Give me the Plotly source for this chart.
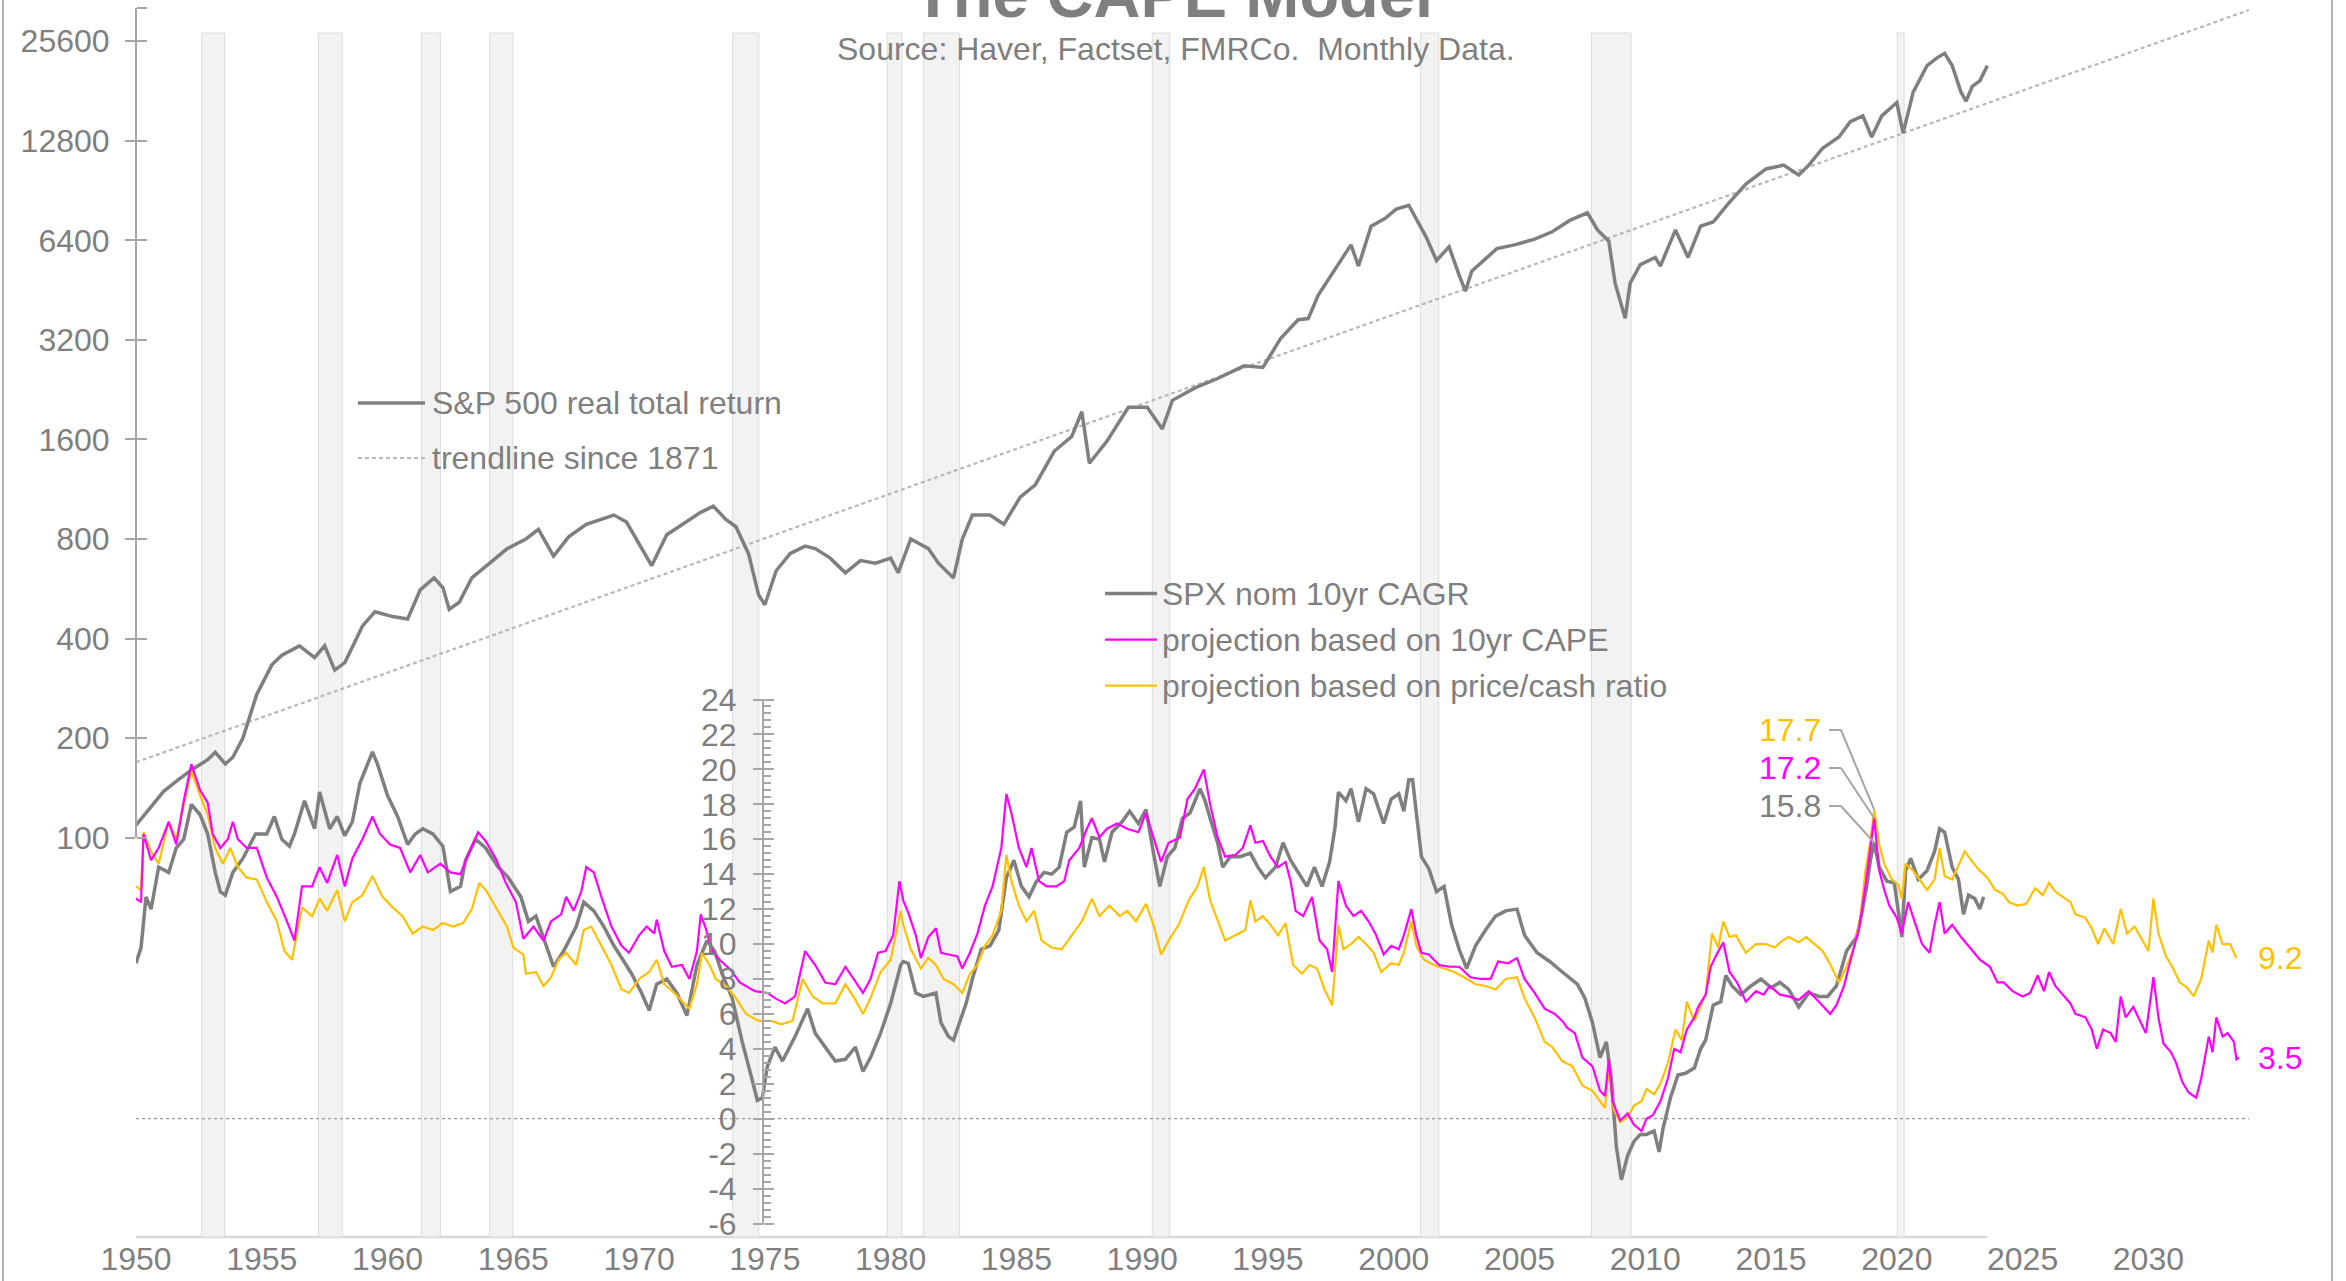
import numpy as np
import plotly.graph_objects as go

# ---------------- DATA ----------------
spx_years = [1950.0, 1950.5, 1951.1, 1951.7, 1952.25, 1952.85, 1953.15, 1953.55, 1953.85, 1954.25, 1954.8, 1955.4,
             1955.8, 1956.5, 1957.1, 1957.5, 1957.9, 1958.3, 1959.0, 1959.5, 1960.2, 1960.8, 1961.3, 1961.85,
             1962.2, 1962.45, 1962.85, 1963.35, 1963.95, 1964.75, 1965.5, 1966.0, 1966.6, 1967.2, 1967.9, 1968.5,
             1969.0, 1969.5, 1970.1, 1970.5, 1971.1, 1971.7, 1972.45, 1972.95, 1973.45, 1973.85, 1974.35, 1974.75,
             1975.0, 1975.45, 1976.0, 1976.6, 1977.0, 1977.6, 1978.2, 1978.8, 1979.4, 1980.0, 1980.3, 1980.8,
             1981.5, 1981.9, 1982.5, 1982.85, 1983.25, 1983.95, 1984.5, 1985.15, 1985.75, 1986.5, 1987.2, 1987.6,
             1987.9, 1988.6, 1989.45, 1990.2, 1990.8, 1991.2, 1992.1, 1993.0, 1994.05, 1994.8, 1995.5, 1996.2,
             1996.6, 1997.0, 1997.6, 1998.3, 1998.6, 1999.1, 1999.65, 2000.1, 2000.6, 2001.05, 2001.3, 2001.7,
             2002.2, 2002.6, 2002.85, 2003.1, 2003.7, 2004.1, 2004.8, 2005.6, 2006.3, 2007.0, 2007.7, 2008.1,
             2008.55, 2008.8, 2009.2, 2009.4, 2009.8, 2010.4, 2010.6, 2011.2, 2011.7, 2012.2, 2012.7, 2013.3,
             2014.0, 2014.8, 2015.5, 2016.1, 2016.5, 2017.05, 2017.7, 2018.15, 2018.65, 2019.0, 2019.4, 2020.0,
             2020.25, 2020.65, 2021.2, 2021.6, 2021.9, 2022.2, 2022.55, 2022.75, 2023.0, 2023.3, 2023.6]
spx_vals = [109, 121, 138, 150, 161, 172, 181, 167, 175, 200, 271, 333,
            356, 380, 350, 380, 321, 338, 436, 482, 466, 458, 561, 610,
            570, 490, 515, 610, 664, 747, 800, 855, 710, 812, 886, 917,
            945, 900, 747, 664, 824, 886, 963, 1005, 917, 871, 722, 542,
            506, 641, 722, 761, 748, 700, 632, 688, 676, 700, 632, 800,
            748, 676, 610, 800, 945, 945, 886, 1070, 1165, 1473, 1633, 1940,
            1355, 1580, 2000, 2000, 1720, 2100, 2290, 2445, 2670, 2640, 3230, 3680,
            3710, 4370, 5160, 6200, 5350, 7060, 7450, 7950, 8170, 7060, 6520, 5560,
            6120, 5020, 4490, 5160, 5680, 6040, 6200, 6450, 6790, 7350, 7750, 6880,
            6360, 4750, 3720, 4750, 5400, 5680, 5350, 6880, 5680, 7060, 7270, 8260,
            9470, 10520, 10800, 10090, 10800, 12150, 13140, 14620, 15220, 13140, 15220, 16700,
            13500, 17960, 21600, 22800, 23530, 21600, 17960, 16850, 18680, 19430, 21600]

trend_years = [1950, 2034]
trend_vals = [169, 31800]

cagr_years = [1950.0, 1950.2, 1950.4, 1950.6, 1950.9, 1951.3, 1951.6, 1951.9, 1952.2, 1952.55, 1952.85, 1953.15,
              1953.35, 1953.55, 1953.85, 1954.25, 1954.75, 1955.2, 1955.5, 1955.8, 1956.1, 1956.3, 1956.7, 1957.1,
              1957.3, 1957.7, 1958.0, 1958.3, 1958.6, 1958.9, 1959.4, 1959.6, 1960.0, 1960.4, 1960.8, 1961.1,
              1961.4, 1961.8, 1962.2, 1962.5, 1962.9, 1963.1, 1963.5, 1963.9, 1964.4, 1964.8, 1965.3, 1965.6,
              1965.9, 1966.3, 1966.6, 1967.0, 1967.5, 1967.8, 1968.2, 1968.6, 1969.0, 1969.4, 1969.7, 1970.1,
              1970.4, 1970.7, 1971.1, 1971.5, 1971.9, 1972.3, 1972.7, 1973.0, 1973.3, 1973.7, 1974.1, 1974.5,
              1974.7, 1974.9, 1975.1, 1975.4, 1975.7, 1976.2, 1976.7, 1977.0, 1977.4, 1977.8, 1978.2, 1978.6,
              1978.9, 1979.2, 1979.6, 1980.0, 1980.4, 1980.5, 1980.7, 1981.0, 1981.3, 1981.6, 1981.8, 1982.0,
              1982.3, 1982.5, 1982.75, 1983.0, 1983.25, 1983.6, 1983.95, 1984.3, 1984.6, 1984.9, 1985.2, 1985.5,
              1985.8, 1986.1, 1986.4, 1986.7, 1987.0, 1987.3, 1987.55, 1987.7, 1988.0, 1988.3, 1988.5, 1988.8,
              1989.2, 1989.5, 1989.85, 1990.15, 1990.45, 1990.7, 1991.0, 1991.3, 1991.6, 1991.9, 1992.3, 1992.5,
              1992.7, 1993.0, 1993.2, 1993.5, 1993.9, 1994.3, 1994.6, 1994.9, 1995.3, 1995.6, 1995.9, 1996.2,
              1996.55, 1996.85, 1997.15, 1997.45, 1997.66, 1997.8, 1998.1, 1998.3, 1998.6, 1998.9, 1999.2, 1999.6,
              1999.9, 2000.2, 2000.4, 2000.6, 2000.75, 2000.9, 2001.1, 2001.4, 2001.7, 2002.0, 2002.3, 2002.6,
              2002.9, 2003.25, 2003.65, 2004.05, 2004.45, 2004.9, 2005.2, 2005.7, 2006.2, 2006.7, 2007.3, 2007.6,
              2007.9, 2008.2, 2008.45, 2008.65, 2008.85, 2009.05, 2009.3, 2009.55, 2009.8, 2010.05, 2010.35, 2010.55,
              2010.7, 2011.0, 2011.3, 2011.6, 2011.95, 2012.2, 2012.4, 2012.7, 2013.0, 2013.2, 2013.45, 2013.8,
              2014.2, 2014.6, 2015.0, 2015.35, 2015.7, 2016.1, 2016.5, 2016.9, 2017.25, 2017.6, 2018.0, 2018.4,
              2018.6, 2018.8, 2018.95, 2019.1, 2019.3, 2019.6, 2019.9, 2020.2, 2020.35, 2020.55, 2020.85, 2021.2,
              2021.5, 2021.7, 2021.9, 2022.2, 2022.45, 2022.65, 2022.85, 2023.1, 2023.3, 2023.45]
cagr_vals = [8.9, 9.8, 12.7, 12.0, 14.4, 14.1, 15.5, 16.0, 18.0, 17.4, 16.3, 14.1,
             13.0, 12.8, 14.1, 14.9, 16.3, 16.3, 17.3, 16.0, 15.6, 16.3, 18.2, 16.6,
             18.7, 16.6, 17.3, 16.2, 17.0, 19.2, 21.0, 20.3, 18.5, 17.3, 15.7, 16.3,
             16.6, 16.3, 15.6, 13.0, 13.3, 14.8, 16.0, 15.5, 14.4, 13.8, 12.7, 11.3,
             11.6, 9.9, 8.7, 9.6, 11.0, 12.4, 11.9, 11.0, 9.9, 9.0, 8.3, 7.2,
             6.2, 7.7, 8.0, 7.2, 5.9, 8.8, 10.2, 9.6, 8.3, 6.9, 4.4, 2.2,
             1.05, 1.2, 3.0, 4.1, 3.3, 4.7, 6.3, 4.9, 4.1, 3.3, 3.4, 4.1,
             2.7, 3.5, 4.9, 6.6, 8.8, 9.0, 8.9, 7.2, 7.0, 7.1, 7.2, 5.5,
             4.7, 4.5, 5.5, 6.6, 8.0, 9.7, 9.9, 10.8, 13.8, 14.8, 13.3, 12.7,
             13.6, 14.1, 14.0, 14.4, 16.4, 16.7, 18.2, 14.4, 16.1, 16.0, 14.7, 16.4,
             17.0, 17.6, 16.9, 17.7, 15.2, 13.3, 15.0, 15.5, 17.2, 17.5, 18.9, 18.2,
             17.2, 15.8, 14.4, 15.0, 15.0, 15.2, 14.4, 13.8, 14.4, 15.8, 14.8, 14.1,
             13.3, 14.4, 13.3, 14.7, 16.6, 18.7, 18.2, 18.9, 17.0, 18.9, 18.6, 16.9,
             18.3, 18.6, 17.6, 19.4, 19.4, 17.5, 15.0, 14.3, 13.0, 13.3, 11.1, 9.7,
             8.6, 9.9, 10.8, 11.6, 11.9, 12.0, 10.5, 9.5, 9.0, 8.4, 7.7, 6.9,
             5.5, 3.5, 4.4, 2.3, -1.6, -3.5, -2.1, -1.3, -0.9, -0.9, -0.7, -1.9,
             -0.6, 1.2, 2.5, 2.6, 2.9, 4.0, 4.5, 6.5, 6.7, 8.2, 7.6, 7.1,
             7.6, 8.0, 7.5, 7.8, 7.4, 6.4, 7.2, 7.0, 7.0, 7.6, 9.6, 10.4,
             11.7, 13.3, 14.8, 15.8, 14.4, 13.6, 13.5, 10.4, 14.2, 14.9, 13.7, 14.2,
             15.3, 16.6, 16.4, 14.4, 13.7, 11.7, 12.8, 12.6, 12.0, 12.7]

cape_years = [1950.0, 1950.2, 1950.3, 1950.6, 1950.9, 1951.3, 1951.6, 1951.9, 1952.2, 1952.55, 1952.85, 1953.05,
              1953.35, 1953.65, 1953.85, 1954.05, 1954.4, 1954.8, 1955.2, 1955.6, 1956.0, 1956.3, 1956.6, 1957.0,
              1957.3, 1957.6, 1958.0, 1958.3, 1958.6, 1959.0, 1959.4, 1959.7, 1960.1, 1960.5, 1960.9, 1961.3,
              1961.6, 1962.1, 1962.5, 1962.9, 1963.2, 1963.6, 1963.9, 1964.3, 1964.7, 1965.1, 1965.4, 1965.8,
              1966.2, 1966.5, 1966.9, 1967.1, 1967.4, 1967.7, 1967.9, 1968.2, 1968.5, 1968.9, 1969.3, 1969.6,
              1970.0, 1970.3, 1970.6, 1970.7, 1971.0, 1971.3, 1971.7, 1972.0, 1972.3, 1972.45, 1972.65, 1972.9,
              1973.2, 1973.65, 1974.0, 1974.6, 1975.1, 1975.4, 1975.8, 1976.2, 1976.6, 1977.0, 1977.4, 1977.8,
              1978.2, 1978.6, 1978.9, 1979.2, 1979.5, 1979.8, 1980.1, 1980.35, 1980.5, 1980.7, 1981.0, 1981.2,
              1981.5, 1981.8, 1982.0, 1982.3, 1982.65, 1982.85, 1983.15, 1983.45, 1983.75, 1984.05, 1984.4, 1984.6,
              1984.8, 1985.1, 1985.4, 1985.6, 1985.9, 1986.2, 1986.6, 1986.9, 1987.1, 1987.5, 1987.8, 1988.0,
              1988.3, 1988.6, 1989.0, 1989.4, 1989.85, 1990.15, 1990.45, 1990.75, 1991.05, 1991.5, 1991.8, 1992.1,
              1992.45, 1992.7, 1993.0, 1993.3, 1993.7, 1994.0, 1994.3, 1994.5, 1994.8, 1995.1, 1995.4, 1995.7,
              1995.9, 1996.1, 1996.4, 1996.75, 1997.05, 1997.35, 1997.55, 1997.8, 1998.1, 1998.4, 1998.7, 1999.0,
              1999.3, 1999.6, 1999.9, 2000.2, 2000.4, 2000.7, 2000.9, 2001.1, 2001.4, 2001.8, 2002.2, 2002.6,
              2003.05, 2003.45, 2003.85, 2004.15, 2004.55, 2004.9, 2005.2, 2005.6, 2006.0, 2006.4, 2006.7, 2006.9,
              2007.2, 2007.5, 2007.9, 2008.2, 2008.4, 2008.55, 2008.7, 2009.0, 2009.3, 2009.55, 2009.85, 2010.05,
              2010.3, 2010.6, 2010.9, 2011.15, 2011.4, 2011.65, 2011.95, 2012.1, 2012.4, 2012.6, 2012.8, 2013.1,
              2013.35, 2013.65, 2014.0, 2014.4, 2014.7, 2014.95, 2015.35, 2015.7, 2016.1, 2016.5, 2016.9, 2017.35,
              2017.6, 2017.9, 2018.2, 2018.5, 2018.75, 2018.95, 2019.1, 2019.3, 2019.5, 2019.7, 2020.0, 2020.2,
              2020.45, 2020.75, 2021.0, 2021.3, 2021.5, 2021.7, 2021.9, 2022.2, 2022.55, 2022.9, 2023.3, 2023.7,
              2024.0, 2024.25, 2024.6, 2025.0, 2025.3, 2025.6, 2025.85, 2026.05, 2026.3, 2026.6, 2026.9, 2027.1,
              2027.5, 2027.75, 2027.95, 2028.2, 2028.5, 2028.7, 2028.9, 2029.1, 2029.4, 2029.7, 2029.9, 2030.2,
              2030.4, 2030.6, 2030.9, 2031.1, 2031.35, 2031.6, 2031.9, 2032.1, 2032.4, 2032.55, 2032.7, 2032.95,
              2033.15, 2033.4, 2033.5, 2033.6]
cape_vals = [12.6, 12.4, 16.3, 14.8, 15.5, 17.0, 15.7, 18.2, 20.3, 18.8, 18.1, 16.3,
             15.5, 16.0, 17.0, 16.0, 15.5, 15.5, 13.8, 12.7, 11.3, 10.2, 13.3, 13.3,
             14.4, 13.5, 15.1, 13.3, 14.9, 16.0, 17.3, 16.3, 15.7, 15.5, 14.1, 15.1,
             14.1, 14.6, 14.1, 14.0, 15.1, 16.4, 15.9, 14.9, 13.5, 12.4, 10.3, 11.0,
             10.2, 11.3, 11.7, 12.7, 11.9, 13.0, 14.4, 14.1, 12.7, 11.0, 9.9, 9.5,
             10.5, 11.0, 10.6, 11.4, 9.6, 8.7, 8.8, 8.0, 9.6, 11.7, 10.9, 9.6,
             9.1, 8.5, 7.8, 7.3, 7.2, 6.9, 6.6, 7.0, 9.6, 8.8, 7.8, 7.7,
             8.7, 7.8, 7.2, 8.0, 9.5, 9.6, 10.5, 13.6, 12.5, 11.8, 10.5, 9.2,
             10.4, 10.9, 9.5, 9.4, 9.3, 8.6, 9.5, 10.6, 12.2, 13.3, 15.5, 18.6,
             17.5, 15.5, 14.4, 15.5, 13.6, 13.3, 13.3, 13.6, 14.8, 15.5, 16.6, 17.2,
             16.1, 16.6, 16.9, 16.6, 16.4, 17.5, 16.1, 14.7, 15.8, 16.1, 18.3, 18.9,
             20.0, 18.0, 16.1, 15.0, 15.1, 15.5, 16.8, 15.8, 15.9, 15.0, 14.4, 14.7,
             13.6, 11.9, 11.6, 12.7, 10.2, 9.7, 8.4, 13.6, 12.2, 11.6, 11.9, 11.3,
             10.5, 9.4, 9.9, 9.7, 10.5, 12.0, 10.5, 9.5, 9.4, 8.8, 8.7, 8.7,
             8.1, 8.0, 8.0, 9.0, 8.9, 9.2, 8.0, 7.2, 6.3, 6.0, 5.6, 5.2,
             4.9, 3.5, 3.0, 1.6, 1.3, 3.4, 1.0, -0.1, 0.3, -0.35, -0.7, 0.0,
             0.2, 1.0, 2.3, 4.0, 3.8, 5.1, 5.8, 6.4, 7.1, 8.7, 9.3, 10.1,
             8.4, 7.8, 6.7, 7.3, 7.1, 7.6, 7.1, 7.0, 6.8, 7.3, 6.7, 6.0,
             6.5, 7.6, 9.3, 10.9, 13.3, 15.5, 17.2, 14.2, 13.1, 12.2, 11.5, 10.6,
             12.4, 11.1, 10.0, 9.5, 11.1, 12.4, 10.6, 11.1, 10.4, 9.8, 9.1, 8.7,
             7.8, 7.8, 7.3, 7.0, 7.2, 8.2, 7.3, 8.4, 7.6, 7.1, 6.6, 6.0,
             5.8, 5.1, 4.0, 5.1, 4.9, 4.4, 7.0, 5.8, 6.4, 5.5, 4.9, 8.1,
             5.8, 4.3, 3.8, 3.2, 2.1, 1.5, 1.2, 2.3, 4.7, 3.8, 5.8, 4.7,
             4.9, 4.4, 3.4, 3.5]

cash_years = [1950.0, 1950.2, 1950.3, 1950.6, 1950.9, 1951.3, 1951.6, 1951.9, 1952.2, 1952.55, 1952.85, 1953.15,
              1953.45, 1953.75, 1954.05, 1954.4, 1954.8, 1955.2, 1955.6, 1955.9, 1956.2, 1956.6, 1957.0, 1957.3,
              1957.6, 1958.0, 1958.3, 1958.6, 1959.0, 1959.4, 1959.8, 1960.2, 1960.6, 1961.0, 1961.4, 1961.8,
              1962.2, 1962.6, 1963.0, 1963.35, 1963.65, 1963.95, 1964.35, 1964.75, 1965.0, 1965.4, 1965.5, 1965.9,
              1966.2, 1966.5, 1966.8, 1967.1, 1967.5, 1967.8, 1968.1, 1968.5, 1968.9, 1969.3, 1969.6, 1970.0,
              1970.4, 1970.7, 1971.0, 1971.4, 1971.8, 1972.0, 1972.3, 1972.5, 1972.8, 1973.05, 1973.45, 1973.85,
              1974.25, 1974.75, 1975.25, 1975.65, 1976.1, 1976.5, 1976.9, 1977.3, 1977.8, 1978.2, 1978.6, 1978.9,
              1979.2, 1979.6, 1980.0, 1980.4, 1980.5, 1980.8, 1981.2, 1981.5, 1981.8, 1982.1, 1982.5, 1982.85,
              1983.15, 1983.45, 1983.75, 1984.05, 1984.4, 1984.6, 1984.8, 1985.1, 1985.4, 1985.7, 1986.0, 1986.4,
              1986.8, 1987.2, 1987.6, 1988.0, 1988.3, 1988.7, 1989.1, 1989.4, 1989.75, 1990.15, 1990.45, 1990.75,
              1991.05, 1991.45, 1991.85, 1992.2, 1992.45, 1992.7, 1993.0, 1993.3, 1993.7, 1994.1, 1994.3, 1994.5,
              1994.8, 1995.1, 1995.4, 1995.7, 1996.0, 1996.35, 1996.65, 1996.95, 1997.25, 1997.55, 1997.8, 1998.0,
              1998.3, 1998.6, 1998.9, 1999.2, 1999.5, 1999.9, 2000.2, 2000.4, 2000.7, 2000.9, 2001.2, 2001.6,
              2002.0, 2002.4, 2002.8, 2003.25, 2003.65, 2004.05, 2004.45, 2004.9, 2005.2, 2005.6, 2006.0, 2006.3,
              2006.7, 2007.1, 2007.5, 2007.9, 2008.2, 2008.4, 2008.55, 2008.75, 2009.0, 2009.3, 2009.55, 2009.85,
              2010.05, 2010.35, 2010.6, 2010.9, 2011.2, 2011.45, 2011.65, 2011.95, 2012.1, 2012.4, 2012.65, 2012.9,
              2013.1, 2013.35, 2013.6, 2014.0, 2014.4, 2014.8, 2015.15, 2015.45, 2015.7, 2016.1, 2016.4, 2016.8,
              2017.05, 2017.25, 2017.4, 2017.7, 2018.0, 2018.3, 2018.55, 2018.75, 2018.95, 2019.1, 2019.3, 2019.5,
              2019.8, 2020.05, 2020.2, 2020.35, 2020.65, 2020.9, 2021.2, 2021.5, 2021.7, 2021.9, 2022.2, 2022.45,
              2022.7, 2023.0, 2023.3, 2023.6, 2023.9, 2024.2, 2024.45, 2024.8, 2025.15, 2025.5, 2025.8, 2026.05,
              2026.3, 2026.6, 2026.9, 2027.1, 2027.5, 2027.75, 2028.0, 2028.25, 2028.6, 2028.9, 2029.15, 2029.45,
              2029.75, 2030.0, 2030.2, 2030.4, 2030.7, 2030.95, 2031.25, 2031.55, 2031.8, 2032.1, 2032.4, 2032.55,
              2032.7, 2032.95, 2033.25, 2033.5]
cash_vals = [13.3, 13.1, 16.4, 15.3, 14.6, 17.0, 16.0, 18.0, 19.9, 18.5, 17.4, 15.5,
             14.6, 15.5, 14.4, 13.8, 13.7, 12.4, 11.3, 9.6, 9.1, 12.1, 11.6, 12.6,
             11.9, 13.1, 11.3, 12.4, 12.8, 13.9, 12.7, 12.1, 11.6, 10.6, 11.0, 10.8,
             11.2, 11.0, 11.2, 12.0, 13.5, 13.0, 12.0, 11.0, 9.8, 9.4, 8.3, 8.4,
             7.6, 8.1, 9.1, 9.5, 8.8, 10.8, 11.0, 9.9, 8.8, 7.4, 7.2, 8.0,
             8.4, 9.1, 7.7, 7.2, 6.6, 6.3, 7.7, 9.5, 8.8, 8.0, 7.6, 6.9,
             6.0, 5.6, 5.6, 5.4, 5.6, 8.0, 7.0, 6.6, 6.6, 7.7, 6.8, 6.0,
             6.9, 8.4, 9.1, 11.9, 11.1, 9.7, 8.6, 9.2, 8.8, 8.0, 7.7, 7.2,
             8.3, 8.8, 9.9, 10.5, 11.9, 15.1, 13.6, 12.2, 11.3, 11.9, 10.2, 9.8,
             9.7, 10.5, 11.3, 12.6, 11.6, 12.2, 11.6, 11.9, 11.3, 12.3, 11.1, 9.4,
             10.2, 11.1, 12.5, 13.3, 14.4, 12.5, 11.3, 10.2, 10.5, 10.8, 12.5, 11.3,
             11.6, 11.1, 10.5, 11.2, 8.8, 8.3, 8.8, 8.6, 7.4, 6.5, 11.1, 9.7,
             10.0, 10.4, 10.0, 9.5, 8.4, 8.9, 8.8, 9.5, 11.3, 9.9, 9.1, 8.8,
             8.6, 8.4, 8.1, 7.7, 7.6, 7.4, 8.0, 8.1, 6.9, 5.8, 4.4, 4.1,
             3.3, 3.0, 1.9, 1.6, 1.0, 0.6, 3.0, 0.5, -0.2, 0.1, 0.75, 1.0,
             1.7, 1.4, 2.0, 3.2, 5.1, 4.5, 6.7, 5.6, 6.1, 7.1, 10.6, 9.8,
             11.3, 10.4, 10.5, 9.5, 10.0, 10.0, 9.8, 10.2, 10.4, 10.1, 10.4, 9.9,
             9.6, 9.1, 8.7, 7.8, 8.7, 9.8, 11.5, 14.2, 15.9, 17.7, 15.7, 14.6,
             13.7, 13.4, 12.6, 14.6, 14.2, 13.7, 13.1, 13.7, 15.5, 13.9, 13.7, 14.5,
             15.3, 14.7, 14.2, 13.8, 13.1, 12.9, 12.4, 12.2, 12.3, 13.2, 12.8, 13.5,
             13.0, 12.7, 12.4, 11.7, 11.5, 10.9, 10.0, 10.9, 10.0, 12.0, 10.6, 11.0,
             10.2, 9.6, 12.6, 10.6, 9.3, 8.7, 7.8, 7.5, 7.0, 8.0, 10.2, 9.5,
             11.1, 10.0, 10.0, 9.2]

recession_start = [1952.6, 1957.25, 1961.35, 1964.05, 1973.72, 1979.86, 1981.3, 1990.4, 2001.06, 2007.86, 2020.02]
recession_end = [1953.53, 1958.2, 1962.1, 1964.98, 1974.76, 1980.45, 1982.74, 1991.1, 2001.79, 2009.44, 2020.29]

upper_ticks = [100, 200, 400, 800, 1600, 3200, 6400, 12800, 25600]
lower_ticks = list(range(-6, 25, 2))
x_ticks = list(range(1950, 2031, 5))
peak_year = 2019.1

title_text = "The CAPE Model"
subtitle_text = "Source: Haver, Factset, FMRCo.  Monthly Data."
name_spx = "S&P 500 real total return"
name_trend = "trendline since 1871"
name_cagr = "SPX nom 10yr CAGR"
name_cape = "projection based on 10yr CAPE"
name_cash = "projection based on price/cash ratio"

# ---------------- STYLE / LAYOUT GEOMETRY ----------------
W, H = 2346, 1281
PL, PR, PT, PB = 136, 2249, 8, 1237
X0, X1 = 1950, 2034
GRAY = "#7f7f7f"
MAG = "#ff00ff"
ORA = "#ffc000"
AXC = "#a6a6a6"
FONT = "Liberation Sans, Arial, sans-serif"


def fx(px):
    return (px - PL) / (PR - PL)


def fy(py):
    return (PB - py) / (PB - PT)


f100, f256 = fy(837.6), fy(41.2)
per_log = np.log10(256) / (f256 - f100)
log_lo = 2 - f100 * per_log
log_hi = log_lo + per_log
fm6, f24 = fy(1223.5), fy(699.5)
per_lin = 30 / (f24 - fm6)
lin_lo = -6 - fm6 * per_lin
lin_hi = lin_lo + per_lin
axis2_pos = fx(763)


def px_year(px):
    return X0 + (px - PL) / (PR - PL) * (X1 - X0)


def py_y2(py):
    return lin_lo + fy(py) * per_lin


fig = go.Figure()

fig.add_trace(go.Scatter(x=trend_years, y=trend_vals, mode="lines", yaxis="y",
                         line=dict(color="#b8b8b8", width=2.2, dash="4px,3px"), hoverinfo="skip"))
fig.add_trace(go.Scatter(x=spx_years, y=spx_vals, mode="lines", yaxis="y",
                         line=dict(color=GRAY, width=3.5), name=name_spx))
fig.add_trace(go.Scatter(x=[None], y=[None], yaxis="y3", showlegend=False, hoverinfo="skip"))
fig.add_trace(go.Scatter(x=[X0, X1], y=[0, 0], mode="lines", yaxis="y2",
                         line=dict(color="#9a9a9a", width=1.3, dash="dot"), hoverinfo="skip"))
fig.add_trace(go.Scatter(x=cagr_years, y=cagr_vals, mode="lines", yaxis="y2",
                         line=dict(color=GRAY, width=3.5), name=name_cagr))
fig.add_trace(go.Scatter(x=cash_years, y=cash_vals, mode="lines", yaxis="y2",
                         line=dict(color=ORA, width=2.2), name=name_cash))
fig.add_trace(go.Scatter(x=cape_years, y=cape_vals, mode="lines", yaxis="y2",
                         line=dict(color=MAG, width=2.2), name=name_cape))
fig.add_trace(go.Scatter(x=[None], y=[None], yaxis="y4", showlegend=False, hoverinfo="skip"))

shapes = []
shapes.append(dict(type="line", xref="x", yref="paper", x0=X0, x1=2023.6, y0=0, y1=0,
                   line=dict(color="#d9d9d9", width=2.5), layer="below"))
for s, e in zip(recession_start, recession_end):
    shapes.append(dict(type="rect", xref="x", yref="paper", x0=s, x1=e, y0=0, y1=fy(33),
                       fillcolor="#f2f2f2", line=dict(color="#dcdcdc", width=1), layer="below"))
shapes.append(dict(type="line", xref="paper", yref="paper", x0=0, x1=0, y0=f100, y1=1.0,
                   line=dict(color=AXC, width=2)))
shapes.append(dict(type="line", xref="paper", yref="y2", x0=axis2_pos, x1=axis2_pos, y0=-6, y1=24,
                   line=dict(color=AXC, width=2)))
shapes.append(dict(type="line", xref="paper", yref="paper", x0=fx(3), x1=fx(3), y0=fy(H + 5), y1=fy(-5),
                   line=dict(color="#b0b0b0", width=2)))
shapes.append(dict(type="line", xref="paper", yref="paper", x0=fx(2332), x1=fx(2332), y0=fy(H + 5), y1=fy(-5),
                   line=dict(color="#b0b0b0", width=2)))

annotations = []
leg1 = [(name_spx, 403, dict(color=GRAY, width=3.5)),
        (name_trend, 458, dict(color="#b8b8b8", width=2.2, dash="4px,3px"))]
for txt, py, ln in leg1:
    shapes.append(dict(type="line", xref="paper", yref="paper", x0=fx(358), x1=fx(425), y0=fy(py), y1=fy(py), line=ln))
    annotations.append(dict(text=txt, xref="paper", yref="paper", x=fx(430), y=fy(py), xanchor="left",
                            yanchor="middle", showarrow=False, font=dict(size=32, color=GRAY, family=FONT)))
leg2 = [(name_cagr, 593.5, dict(color=GRAY, width=3.5)),
        (name_cape, 639.6, dict(color=MAG, width=2.2)),
        (name_cash, 685.6, dict(color=ORA, width=2.2))]
for txt, py, ln in leg2:
    shapes.append(dict(type="line", xref="paper", yref="paper", x0=fx(1105), x1=fx(1157), y0=fy(py), y1=fy(py), line=ln))
    annotations.append(dict(text=txt, xref="paper", yref="paper", x=fx(1160), y=fy(py), xanchor="left",
                            yanchor="middle", showarrow=False, font=dict(size=32, color=GRAY, family=FONT)))

for yrs, vals, col in [(cash_years, cash_vals, ORA), (cape_years, cape_vals, MAG)]:
    annotations.append(dict(text=f"{vals[-1]:.1f}", xref="paper", yref="y2", x=fx(2256), y=vals[-1],
                            xanchor="left", yanchor="middle", showarrow=False,
                            font=dict(size=32, color=col, family=FONT)))

for (yrs, vals, col), py in zip([(cash_years, cash_vals, ORA), (cape_years, cape_vals, MAG),
                                 (cagr_years, cagr_vals, GRAY)], [730, 768, 806]):
    i = int(np.argmin(np.abs(np.array(yrs) - peak_year)))
    v = vals[i]
    annotations.append(dict(text=f"{v:.1f}", xref="paper", yref="paper", x=fx(1823), y=fy(py),
                            xanchor="right", yanchor="middle", showarrow=False,
                            font=dict(size=32, color=col, family=FONT)))
    shapes.append(dict(type="line", xref="paper", yref="paper", x0=fx(1829), x1=fx(1841), y0=fy(py), y1=fy(py),
                       line=dict(color=AXC, width=2)))
    shapes.append(dict(type="line", xref="x", yref="y2", x0=px_year(1841), y0=py_y2(py), x1=yrs[i], y1=v,
                       line=dict(color=AXC, width=2)))

annotations.append(dict(text=f"<b>{title_text}</b>", xref="paper", yref="paper", x=fx(1173), y=fy(-5),
                        xanchor="center", yanchor="middle", showarrow=False,
                        font=dict(size=65, color=GRAY, family=FONT)))
annotations.append(dict(text=subtitle_text, xref="paper", yref="paper", x=fx(1176), y=fy(49),
                        xanchor="center", yanchor="middle", showarrow=False,
                        font=dict(size=32, color=GRAY, family=FONT)))

minor_vals = [round(v, 1) for v in np.arange(-6, 24.001, 0.4) if abs(v / 2 - round(v / 2)) > 1e-6]

fig.update_layout(
    width=W, height=H,
    margin=dict(l=PL, r=W - PR, t=PT, b=H - PB, pad=0, autoexpand=False),
    plot_bgcolor="white", paper_bgcolor="white",
    showlegend=False,
    font=dict(family=FONT, size=32, color=GRAY),
    xaxis=dict(range=[X0, X1], tickmode="array", tickvals=x_ticks, ticktext=[str(t) for t in x_ticks],
               showgrid=False, zeroline=False, showline=False, ticks="", automargin=False,
               tickfont=dict(size=32, color=GRAY), ticklabelstandoff=0),
    yaxis=dict(type="log", range=[log_lo, log_hi], tickmode="array", tickvals=upper_ticks,
               ticktext=[str(t) for t in upper_ticks], showgrid=False, zeroline=False, showline=False,
               ticks="outside", ticklen=10, tickwidth=2, tickcolor=AXC, automargin=False,
               tickfont=dict(size=32, color=GRAY), ticklabelstandoff=9),
    yaxis3=dict(type="log", range=[log_lo, log_hi], overlaying="y", anchor="free", position=0, side="right",
                tickmode="array", tickvals=upper_ticks + [10 ** log_hi * 0.999], showticklabels=False,
                showgrid=False, zeroline=False, showline=False, automargin=False,
                ticks="outside", ticklen=10, tickwidth=2, tickcolor=AXC),
    yaxis2=dict(range=[lin_lo, lin_hi], overlaying="y", anchor="free", position=axis2_pos, side="left",
                tickmode="array", tickvals=lower_ticks, ticktext=[str(t) for t in lower_ticks],
                showgrid=False, zeroline=False, showline=False, automargin=False,
                ticks="outside", ticklen=10, tickwidth=2, tickcolor=AXC,
                tickfont=dict(size=32, color=GRAY), ticklabelstandoff=10),
    yaxis4=dict(range=[lin_lo, lin_hi], overlaying="y", anchor="free", position=axis2_pos, side="right",
                tickmode="array", tickvals=lower_ticks, showticklabels=False,
                showgrid=False, zeroline=False, showline=False, automargin=False,
                ticks="outside", ticklen=10, tickwidth=2, tickcolor=AXC,
                minor=dict(tickmode="array", tickvals=minor_vals, ticks="outside", ticklen=7,
                           tickwidth=1.5, tickcolor=AXC)),
    shapes=shapes,
    annotations=annotations,
)

fig.write_html("out.html", config={"displayModeBar": False},
               post_script="document.body.style.margin='0';document.body.style.overflow='hidden';")
